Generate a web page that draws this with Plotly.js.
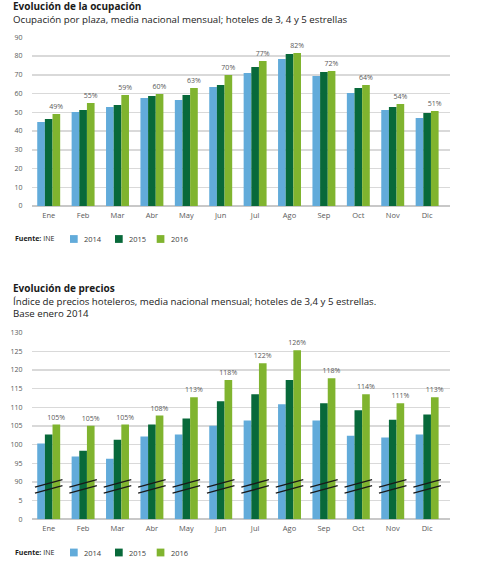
<!DOCTYPE html>
<html>
<head>
<meta charset="utf-8">
<script src="https://cdn.plot.ly/plotly-3.0.1.min.js"></script>
<style>html,body{margin:0;padding:0;background:#fff;}#chart{width:477px;height:575px;}</style>
</head>
<body>
<div id="chart"></div>
<script>
// ---- data ----
var months = ['Ene','Feb','Mar','Abr','May','Jun','Jul','Ago','Sep','Oct','Nov','Dic'];
var seriesNames = ['2014','2015','2016'];
var seriesColors = ['#62abda','#08693a','#80b42f'];

// Ocupación por plaza (%)
var occ2014 = [44.8, 50.2, 52.8, 57.6, 56.6, 63.5, 71.0, 78.4, 69.4, 60.3, 51.2, 47.0];
var occ2015 = [46.4, 51.2, 53.9, 58.7, 59.2, 64.6, 74.2, 81.1, 71.5, 63.0, 52.8, 49.6];
var occ2016 = [49.1, 55.0, 59.2, 59.8, 63.0, 69.9, 77.4, 81.6, 72.0, 64.6, 54.4, 50.7];
var occLabels = ['49%','55%','59%','60%','63%','70%','77%','82%','72%','64%','54%','51%'];

// Índice de precios (base enero 2014 = 100)
var pri2014 = [100.3, 96.8, 96.2, 102.2, 102.7, 105.1, 106.5, 110.8, 106.5, 102.4, 101.9, 102.7];
var pri2015 = [102.7, 98.4, 101.3, 105.4, 107.0, 111.6, 113.5, 117.3, 111.1, 109.2, 106.7, 108.1];
var pri2016 = [105.4, 105.1, 105.4, 107.8, 112.7, 117.3, 121.8, 125.3, 117.8, 113.5, 111.1, 112.7];
var priLabels = ['105%','105%','105%','108%','113%','118%','122%','126%','118%','114%','111%','113%'];

var occTicks = [0,10,20,30,40,50,60,70,80,90];
var priTickText = ['0','5','90','95','100','105','110','115','120','125','130'];
var breakOffset = 80; // broken axis: values >= 90 are drawn shifted down by 80

// ---- build ----
var W = 477, H = 575;
function px(x){return x/W;}
function py(y){return 1 - y/H;}

var occSeries = [occ2014, occ2015, occ2016];
var priSeries = [pri2014, pri2015, pri2016];
var traces = [];
occSeries.forEach(function(vals, i){
  var t = {type:'bar', x:months, y:vals, name:seriesNames[i], marker:{color:seriesColors[i]},
    xaxis:'x', yaxis:'y', showlegend:false, hoverinfo:'x+y'};
  if (i === 2){ t.text = occLabels; t.textposition='outside'; t.cliponaxis=false; t.constraintext='none';
    t.textfont={family:'Open Sans', size:7, color:'#595959'}; }
  traces.push(t);
});
priSeries.forEach(function(vals, i){
  var t = {type:'bar', x:months, y:vals.map(function(v){return v - breakOffset;}), name:seriesNames[i],
    marker:{color:seriesColors[i]}, xaxis:'x2', yaxis:'y2', showlegend:false,
    customdata: vals, hovertemplate:'%{x}: %{customdata}<extra></extra>'};
  if (i === 2){ t.text = priLabels; t.textposition='outside'; t.cliponaxis=false; t.constraintext='none';
    t.textfont={family:'Open Sans', size:7, color:'#595959'}; }
  traces.push(t);
});

var xdom = [px(31.5), px(449.5)];
var tickFont = {family:'Open Sans', size:7, color:'#595959'};
var xCommon = {type:'category', range:[-0.5, 11.65], domain:xdom, showgrid:false, zeroline:false,
  showline:false, ticks:'', tickfont:{family:'Open Sans', size:7.5, color:'#595959'}, ticklabelstandoff:3, fixedrange:true};
var yCommon = {showgrid:true, gridcolor:'#d9d9d9', gridwidth:1.5, zeroline:true, zerolinecolor:'#c8c8c8',
  zerolinewidth:2, showline:false, ticks:'', tickfont:tickFont, ticklabelstandoff:8, fixedrange:true};

var annotations = [];
var shapes = [];
function addTitleBlock(title, lines, yc){
  var txt = '<b style="font-size:10px">' + title + '</b><br>' + lines.join('<br>');
  annotations.push({xref:'paper', yref:'paper', x:px(12), y:py(yc), xanchor:'left', yanchor:'middle',
    showarrow:false, text: txt, align:'left', borderpad:0,
    font:{family:'Open Sans', size:9.7, color:'#1a1a1a'}});
}
addTitleBlock('Evolución de la ocupación',
  ['Ocupación por plaza, media nacional mensual; hoteles de 3, 4 y 5 estrellas'], 12.6);
addTitleBlock('Evolución de precios',
  ['Índice de precios hoteleros, media nacional mensual; hoteles de 3,4 y 5 estrellas.', 'Base enero 2014'], 300.3);

function addLegend(yc){
  annotations.push({xref:'paper', yref:'paper', x:px(13), y:py(yc), xanchor:'left', yanchor:'middle',
    showarrow:false, text:'<b>Fuente:</b> INE', font:{family:'Open Sans', size:7, color:'#1a1a1a'}});
  var boxX = [70, 115, 156.7];
  seriesNames.forEach(function(n, i){
    shapes.push({type:'rect', xref:'paper', yref:'paper', x0:px(boxX[i]), x1:px(boxX[i]+7.7),
      y0:py(yc+3.9), y1:py(yc-3.9), fillcolor:seriesColors[i], line:{width:0}});
    annotations.push({xref:'paper', yref:'paper', x:px(boxX[i]+12.3), y:py(yc), xanchor:'left', yanchor:'middle',
      showarrow:false, text:n, font:{family:'Open Sans', size:7.5, color:'#404040'}});
  });
}
addLegend(239);
addLegend(552.5);

// axis break marks on each category group of the price chart
months.forEach(function(m, i){
  [[8.6,10.6],[7.0,9.0]].forEach(function(seg){
    shapes.push({type:'line', xref:'x2', yref:'y2', x0:i-0.4, x1:i+0.4, y0:seg[0], y1:seg[1],
      line:{color:'#1a1a1a', width:1.3}});
  });
});

var layout = {
  width:W, height:H, margin:{l:0,r:0,t:0,b:0}, paper_bgcolor:'#fff', plot_bgcolor:'#fff',
  font:{family:'Open Sans'}, barmode:'group', bargap:0.333, bargroupgap:0, showlegend:false,
  xaxis: Object.assign({}, xCommon, {anchor:'y'}),
  yaxis: Object.assign({}, yCommon, {domain:[py(206), py(37.3)], range:[0,90], tickvals:occTicks, anchor:'x'}),
  xaxis2: Object.assign({}, xCommon, {anchor:'y2'}),
  yaxis2: Object.assign({}, yCommon, {domain:[py(519.3), py(332.7)], range:[0,50],
    tickvals:priTickText.map(function(t,i){return i*5;}), ticktext:priTickText, anchor:'x2'}),
  annotations: annotations, shapes: shapes
};
Plotly.newPlot('chart', traces, layout, {displayModeBar:false, staticPlot:true});
</script>
</body>
</html>
